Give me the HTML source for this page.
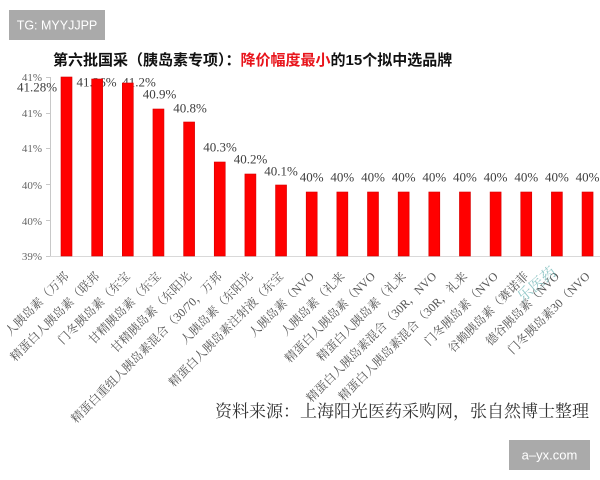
<!DOCTYPE html>
<html><head><meta charset="utf-8"><style>
html,body{margin:0;padding:0;background:#fff;}
svg{display:block;}
</style></head><body>
<svg width="600" height="480" viewBox="0 0 600 480" xmlns="http://www.w3.org/2000/svg">
<rect width="600" height="480" fill="#fff"/>
<!-- TG box -->
<rect x="9" y="10" width="96" height="30" fill="#aaaaaa"/>
<text x="57" y="29.5" text-anchor="middle" font-family="Liberation Sans, sans-serif" font-size="12.5" fill="#fff">TG: MYYJJPP</text>
<!-- Title -->
<text x="53" y="65" font-family="'Liberation Sans','Noto Sans CJK SC',sans-serif" font-size="15" font-weight="bold" fill="#111">第六批国采（胰岛素专项）：<tspan fill="#e8141b">降价幅度最小</tspan>的15个拟中选品牌</text>
<!-- axes -->
<g stroke="#c8c8c8" stroke-width="1">
<line x1="50.5" y1="77" x2="50.5" y2="256"/>
<line x1="50" y1="256.5" x2="600" y2="256.5" stroke="#d9d9d9"/>
<line x1="46" y1="77.5" x2="50" y2="77.5"/>
<line x1="46" y1="113.5" x2="50" y2="113.5"/>
<line x1="46" y1="148.5" x2="50" y2="148.5"/>
<line x1="46" y1="184.5" x2="50" y2="184.5"/>
<line x1="46" y1="220.5" x2="50" y2="220.5"/>
<line x1="46" y1="256.5" x2="50" y2="256.5"/>
</g>
<g font-family="'Liberation Serif',serif" font-size="11" fill="#666" text-anchor="end">
<text x="42" y="81">41%</text>
<text x="42" y="117">41%</text>
<text x="42" y="152">41%</text>
<text x="42" y="189">40%</text>
<text x="42" y="225">40%</text>
<text x="42" y="260">39%</text>
</g>
<!-- data labels -->
<g font-family="'Liberation Serif',serif" font-size="13" fill="#404040" text-anchor="middle">
<text x="37" y="91.5">41.28%</text>
<text x="96.5" y="86.5">41.26%</text>
<text x="139" y="86.5">41.2%</text>
<text x="159.5" y="98.5">40.9%</text>
<text x="190" y="112.5">40.8%</text>
<text x="220" y="151.5">40.3%</text>
<text x="250.5" y="163.5">40.2%</text>
<text x="281" y="175.5">40.1%</text>
<text x="311.7" y="181.5">40%</text>
<text x="342.35" y="181.5">40%</text>
<text x="373" y="181.5">40%</text>
<text x="403.65" y="181.5">40%</text>
<text x="434.3" y="181.5">40%</text>
<text x="464.95" y="181.5">40%</text>
<text x="495.6" y="181.5">40%</text>
<text x="526.25" y="181.5">40%</text>
<text x="556.9" y="181.5">40%</text>
<text x="587.55" y="181.5">40%</text>
</g>
<!-- bars -->
<g fill="#ff0000" stroke="#d40000" stroke-width="0.6">
<rect x="61" y="77" width="11" height="179"/>
<rect x="91.65" y="79" width="11" height="177"/>
<rect x="122.3" y="83" width="11" height="173"/>
<rect x="152.95" y="109" width="11" height="147"/>
<rect x="183.6" y="122" width="11" height="134"/>
<rect x="214.25" y="162" width="11" height="94"/>
<rect x="244.9" y="174" width="11" height="82"/>
<rect x="275.55" y="185" width="11" height="71"/>
<rect x="306.2" y="192" width="11" height="64"/>
<rect x="336.85" y="192" width="11" height="64"/>
<rect x="367.5" y="192" width="11" height="64"/>
<rect x="398.15" y="192" width="11" height="64"/>
<rect x="428.8" y="192" width="11" height="64"/>
<rect x="459.45" y="192" width="11" height="64"/>
<rect x="490.1" y="192" width="11" height="64"/>
<rect x="520.75" y="192" width="11" height="64"/>
<rect x="551.4" y="192" width="11" height="64"/>
<rect x="582.05" y="192" width="11" height="64"/>
</g>
<!-- x labels -->
<g font-family="'Liberation Serif','Noto Serif CJK SC',serif" font-size="12" fill="#555" text-anchor="end">
<text transform="translate(69.5,277) rotate(-45)">人胰岛素（万邦</text>
<text transform="translate(100.15,277) rotate(-45)">精蛋白人胰岛素（联邦</text>
<text transform="translate(130.8,277) rotate(-45)">门冬胰岛素（东宝</text>
<text transform="translate(161.45,277) rotate(-45)">甘精胰岛素（东宝</text>
<text transform="translate(192.1,277) rotate(-45)">甘精胰岛素（东阳光</text>
<text transform="translate(222.75,277) rotate(-45)">精蛋白重组人胰岛素混合（30/70，万邦</text>
<text transform="translate(253.4,277) rotate(-45)">人胰岛素（东阳光</text>
<text transform="translate(284.05,277) rotate(-45)">精蛋白人胰岛素注射液（东宝</text>
<text transform="translate(314.7,277) rotate(-45)">人胰岛素（NVO</text>
<text transform="translate(345.35,277) rotate(-45)">人胰岛素（礼来</text>
<text transform="translate(376,277) rotate(-45)">精蛋白人胰岛素（NVO</text>
<text transform="translate(406.65,277) rotate(-45)">精蛋白人胰岛素（礼来</text>
<text transform="translate(437.3,277) rotate(-45)">精蛋白人胰岛素混合（30R，NVO</text>
<text transform="translate(467.95,277) rotate(-45)">精蛋白人胰岛素混合（30R，礼来</text>
<text transform="translate(498.6,277) rotate(-45)">门冬胰岛素（NVO</text>
<text transform="translate(529.25,277) rotate(-45)">谷赖胰岛素（赛诺菲</text>
<text transform="translate(559.9,277) rotate(-45)">德谷胰岛素（NVO</text>
<text transform="translate(590.55,277) rotate(-45)">门冬胰岛素30（NVO</text>
</g>
<!-- watermark -->
<text transform="translate(540,288) rotate(-40)" text-anchor="middle" font-family="'Noto Serif CJK SC',serif" font-size="15" fill="#3a9a9a" fill-opacity="0.55">乐医药</text>
<!-- source -->
<text x="215" y="417" font-family="'Liberation Serif','Noto Serif CJK SC',serif" font-size="17" fill="#333">资料来源：上海阳光医药采购网，张自然博士整理</text>
<!-- bottom box -->
<rect x="509" y="440" width="81" height="30" fill="#aaaaaa"/>
<text x="549.5" y="459.5" text-anchor="middle" font-family="Liberation Sans, sans-serif" font-size="13" fill="#fff">a‒yx.com</text>
</svg>
</body></html>
